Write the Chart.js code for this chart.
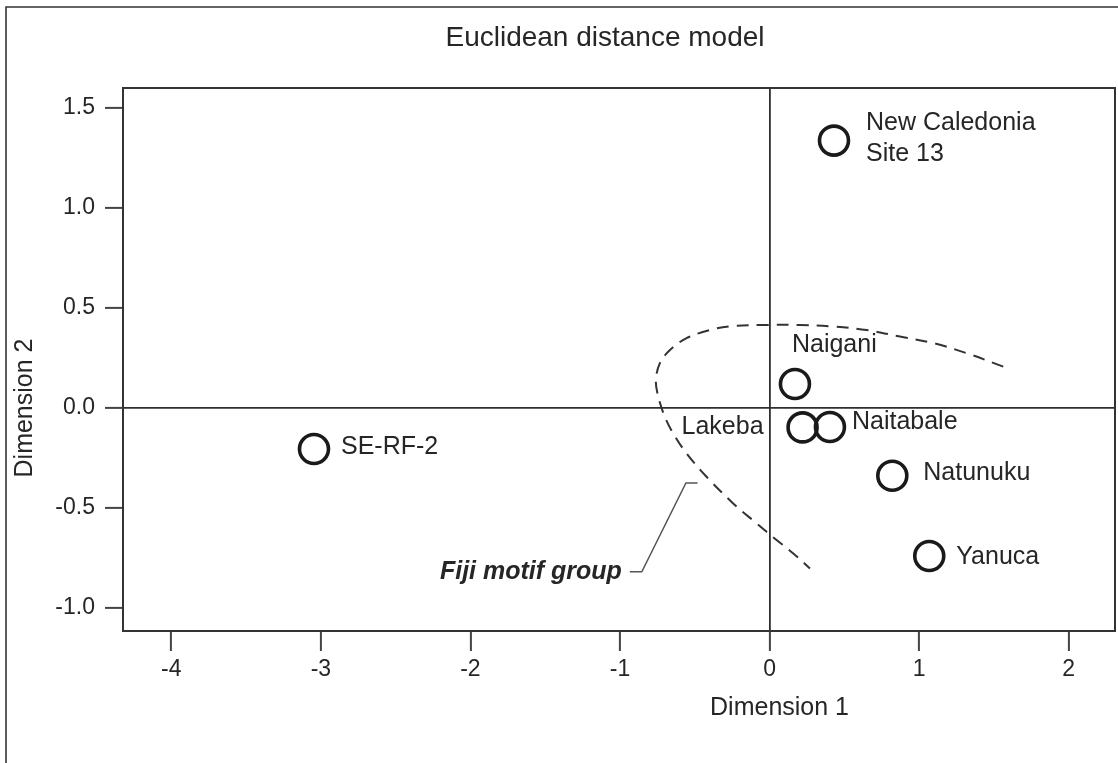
<!DOCTYPE html>
<html>
<head>
<meta charset="utf-8">
<title>Euclidean distance model</title>
<script src="https://cdn.jsdelivr.net/npm/chart.js@4.4.1/dist/chart.umd.min.js"></script>
<style>
  html, body { margin: 0; padding: 0; background: #fff; overflow: hidden; }
  canvas { display: block; }
</style>
</head>
<body>
<canvas id="mdsChart" width="1118" height="763"></canvas>
<script>
// Site coordinates (Dimension 1 / Dimension 2)
const siteNames = [['New Caledonia', 'Site 13'], ['Naigani'], ['Lakeba'], ['Naitabale'], ['Natunuku'], ['Yanuca'], ['SE-RF-2']];
const dim1 = [0.431, 0.170, 0.221, 0.404, 0.821, 1.068, -3.046];
const dim2 = [1.337, 0.120, -0.097, -0.095, -0.339, -0.740, -0.205];

// Dashed outline of the Fiji motif group
const groupX = [1.563, 1.318, 1.093, 0.872, 0.650, 0.426, 0.203, -0.019, -0.245, -0.399, -0.555, -0.666, -0.733, -0.760, -0.744, -0.700, -0.644, -0.555, -0.421, -0.243, -0.086, 0.047, 0.159, 0.270];
const groupY = [0.207, 0.274, 0.325, 0.357, 0.390, 0.407, 0.415, 0.415, 0.410, 0.390, 0.349, 0.290, 0.224, 0.140, 0.057, -0.044, -0.127, -0.227, -0.344, -0.477, -0.577, -0.660, -0.727, -0.802];

// Leader line for the group label
const leaderX = [-0.934, -0.854, -0.559, -0.481];
const leaderY = [-0.819, -0.819, -0.375, -0.375];
const groupLabel = 'Fiji motif group';

// Axis ticks
const xTicks = [-4, -3, -2, -1, 0, 1, 2];
const yTicks = [-1.0, -0.5, 0.0, 0.5, 1.0, 1.5];

document.addEventListener('DOMContentLoaded', () => {
  const ink = '#262626';
  const fontFamily = '"Liberation Sans", Arial, Helvetica, sans-serif';

  const toPoints = (xs, ys) => xs.map((x, i) => ({ x, y: ys[i] }));

  // label offsets from each circle centre, in px
  const labelPlacement = [
    { dx: 32, dy: -17, align: 'left', lineGap: 31 },
    { dx: -3, dy: -39, align: 'left' },
    { dx: -39, dy: 0, align: 'right' },
    { dx: 22, dy: -5, align: 'left' },
    { dx: 31, dy: -3, align: 'left' },
    { dx: 27, dy: 1, align: 'left' },
    { dx: 27, dy: -2, align: 'left' }
  ];

  const annotations = {
    id: 'annotations',
    beforeDraw(chart) {
      const { ctx } = chart;
      ctx.save();
      ctx.fillStyle = '#fff';
      ctx.fillRect(0, 0, chart.width, chart.height);
      ctx.restore();
    },
    afterDatasetsDraw(chart) {
      const { ctx, scales } = chart;
      ctx.save();
      ctx.fillStyle = ink;
      ctx.textBaseline = 'middle';
      ctx.font = `25px ${fontFamily}`;
      siteNames.forEach((lines, i) => {
        const p = labelPlacement[i];
        const px = scales.x.getPixelForValue(dim1[i]) + p.dx;
        const py = scales.y.getPixelForValue(dim2[i]) + p.dy;
        ctx.textAlign = p.align;
        lines.forEach((line, j) => ctx.fillText(line, px, py + j * (p.lineGap || 0)));
      });

      // group label at the start of the leader line
      ctx.font = `italic bold 25px ${fontFamily}`;
      ctx.textAlign = 'right';
      ctx.fillText(groupLabel, scales.x.getPixelForValue(leaderX[0]) - 8, scales.y.getPixelForValue(leaderY[0]));
      ctx.restore();
    },
    afterDraw(chart) {
      const { ctx, chartArea: a, scales } = chart;
      ctx.save();
      // outer frame (top and left edges visible)
      ctx.strokeStyle = '#333';
      ctx.lineWidth = 1.6;
      ctx.beginPath();
      ctx.moveTo(6, chart.height + 5);
      ctx.lineTo(6, 7);
      ctx.lineTo(chart.width + 5, 7);
      ctx.stroke();

      // plot box
      ctx.lineWidth = 2;
      ctx.strokeRect(a.left, a.top, a.right - a.left, a.bottom - a.top);

      // titles
      ctx.fillStyle = ink;
      ctx.textAlign = 'center';
      ctx.textBaseline = 'middle';
      ctx.font = `28px ${fontFamily}`;
      ctx.fillText('Euclidean distance model', 605, 38);

      ctx.font = `25px ${fontFamily}`;
      ctx.fillText('Dimension 1', scales.x.getPixelForValue(0) + 10, 708);

      ctx.translate(25, scales.y.getPixelForValue(0));
      ctx.rotate(-Math.PI / 2);
      ctx.fillText('Dimension 2', 0, 0);
      ctx.restore();
    }
  };

  const zeroLine = (c) => (c.tick && c.tick.value === 0 ? '#2e2e2e' : 'rgba(0,0,0,0)');

  new Chart(document.getElementById('mdsChart'), {
    type: 'scatter',
    data: {
      datasets: [
        {
          label: 'Fiji motif group',
          data: toPoints(groupX, groupY),
          showLine: true,
          borderColor: '#333',
          borderWidth: 2,
          borderDash: [12, 8],
          tension: 0.35,
          pointRadius: 0,
          pointHoverRadius: 0
        },
        {
          label: 'leader',
          data: toPoints(leaderX, leaderY),
          showLine: true,
          borderColor: '#555',
          borderWidth: 1.5,
          tension: 0,
          pointRadius: 0,
          pointHoverRadius: 0
        },
        {
          label: 'Sites',
          data: toPoints(dim1, dim2),
          pointStyle: 'circle',
          pointRadius: 14.5,
          pointHoverRadius: 14.5,
          pointBorderWidth: 3.6,
          pointHoverBorderWidth: 3.6,
          pointBorderColor: '#1a1a1a',
          pointBackgroundColor: 'rgba(255,255,255,0)'
        }
      ]
    },
    options: {
      responsive: false,
      animation: false,
      events: [],
      layout: { autoPadding: false, padding: { top: 88, right: 3, left: 0, bottom: 0 } },
      plugins: {
        legend: { display: false },
        tooltip: { enabled: false },
        title: { display: false }
      },
      scales: {
        x: {
          type: 'linear',
          min: -4.323,
          max: 2.31,
          afterFit: (scale) => { scale.height = 132; },
          afterBuildTicks: (scale) => { scale.ticks = xTicks.map(v => ({ value: v })); },
          border: { display: false },
          grid: {
            color: zeroLine,
            lineWidth: 1.8,
            drawOnChartArea: true,
            tickLength: 20,
            tickColor: '#444',
            tickWidth: 2
          },
          ticks: {
            padding: 5,
            color: ink,
            font: { family: fontFamily, size: 23 },
            callback: (v) => String(v)
          }
        },
        y: {
          type: 'linear',
          min: -1.115,
          max: 1.6,
          afterFit: (scale) => { scale.width = 123; },
          afterBuildTicks: (scale) => { scale.ticks = yTicks.map(v => ({ value: v })); },
          border: { display: false },
          grid: {
            color: zeroLine,
            lineWidth: 1.8,
            drawOnChartArea: true,
            tickLength: 18,
            tickColor: '#444',
            tickWidth: 2
          },
          ticks: {
            padding: 10,
            color: ink,
            font: { family: fontFamily, size: 23 },
            callback: (v) => Number(v).toFixed(1)
          }
        }
      }
    },
    plugins: [annotations]
  });
});
</script>
</body>
</html>
